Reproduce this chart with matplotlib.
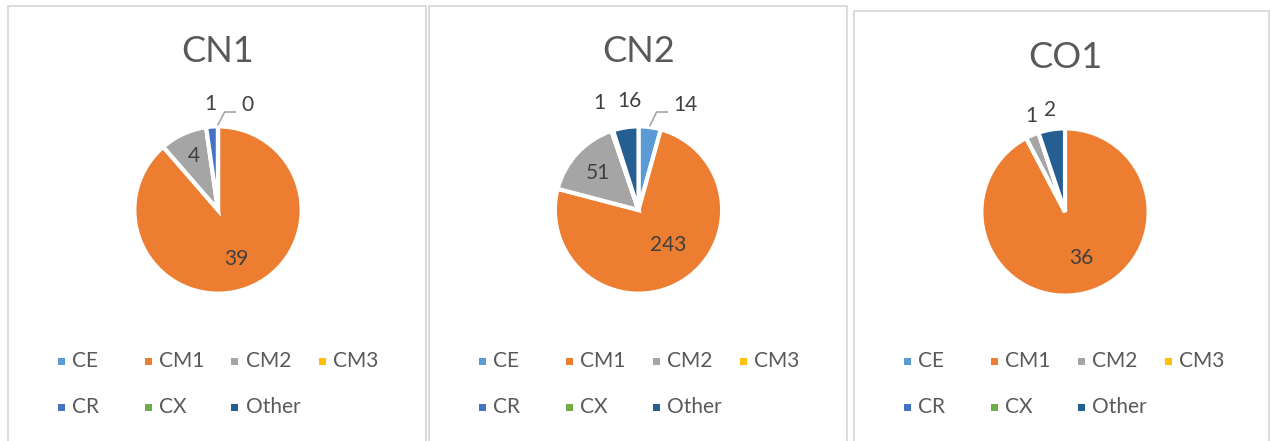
import numpy as np
import matplotlib.pyplot as plt
from matplotlib.patches import Rectangle

plt.rcParams['font.family'] = ['Lato', 'DejaVu Sans']

categories = ["CE", "CM1", "CM2", "CM3", "CR", "CX", "Other"]
colors = ["#5B9BD5", "#ED7D31", "#A5A5A5", "#FFC000", "#4472C4", "#70AD47", "#255E91"]

titles = ["CN1", "CN2", "CO1"]
# None = empty cell (no slice, no label)
cn1 = [0, 39, 4, None, 1, None, None]
cn2 = [14, 243, 51, None, 1, None, 16]
co1 = [None, 36, 1, None, None, None, 2]
series = [cn1, cn2, co1]

# label placement per slice: (radius factor, angle nudge in degrees), "lead" = leader line
label_pos = [
    {0: "lead", 1: (0.64, 0), 2: (0.72, 0), 4: (1.3, 0)},
    {0: "lead", 1: (0.56, 11), 2: (0.67, 0), 4: (1.39, 2), 6: (1.33, -4)},
    {1: (0.6, 6), 2: (1.24, -4), 6: (1.26, -1)},
]

W, H = 1270, 441
panel_left = [8, 429, 854]
panel_right = [426, 847, 1269]
panel_top = [6, 6, 11]
pie_cx = [218, 638.5, 1065]
pie_cy = [210, 210, 212]
title_y = [51, 51, 57]
R = 82

fig = plt.figure(figsize=(W / 100, H / 100), dpi=100)
fig.patch.set_facecolor("white")

def fx(x):
    return x / W

def fy(y):
    return 1 - y / H

for p in range(3):
    # panel border
    fig.patches.append(Rectangle((fx(panel_left[p]), fy(H + 10)),
                                 fx(panel_right[p] - panel_left[p]),
                                 (H + 10 - panel_top[p]) / H,
                                 transform=fig.transFigure, fill=False,
                                 edgecolor="#d9d9d9", linewidth=1.3))
    fig.text(fx(pie_cx[p]), fy(title_y[p]), titles[p], ha="center", va="center",
             fontsize=26, color="#595959")

    vals = [0 if v is None else v for v in series[p]]
    ax = fig.add_axes([fx(pie_cx[p] - R), fy(pie_cy[p] + R), 2 * R / W, 2 * R / H])
    wedges, _ = ax.pie(vals, colors=colors, startangle=90, counterclock=False,
                       radius=1.02, wedgeprops=dict(edgecolor="white", linewidth=3))
    ax.set_xlim(-1, 1)
    ax.set_ylim(-1, 1)
    ax.set_aspect("equal")
    ax.axis("off")

    for i, w in enumerate(wedges):
        if series[p][i] is None:
            continue
        mid = np.deg2rad((w.theta1 + w.theta2) / 2)
        pos = label_pos[p].get(i)
        if pos == "lead":
            sx, sy = 1.04 * np.cos(mid), 1.04 * np.sin(mid)
            ex, ey = sx + 0.08, 1.195
            ax.plot([sx, ex, ex + 0.13], [sy, ey, ey], color="#a6a6a6", lw=1.2,
                    clip_on=False)
            ax.text(ex + 0.2, ey + 0.09, str(series[p][i]), ha="left", va="center",
                    fontsize=15, color="#404040", clip_on=False)
            continue
        rf, nudge = pos
        a = mid + np.deg2rad(nudge)
        ax.text(rf * np.cos(a), rf * np.sin(a), str(series[p][i]), ha="center",
                va="center", fontsize=15, color="#404040", clip_on=False)

    # legend, Excel-style fixed columns
    for i, name in enumerate(categories):
        col, row = i % 4, i // 4
        mx = panel_left[p] + 53 + col * 87
        my = 361 + row * 46
        fig.patches.append(Rectangle((fx(mx - 3.5), fy(my + 3.5)), 7 / W, 7 / H,
                                     transform=fig.transFigure, facecolor=colors[i],
                                     edgecolor="none"))
        fig.text(fx(mx + 11), fy(my), name, ha="left", va="center", fontsize=15,
                 color="#595959")

fig.savefig("out.png", dpi=100, facecolor="white")
